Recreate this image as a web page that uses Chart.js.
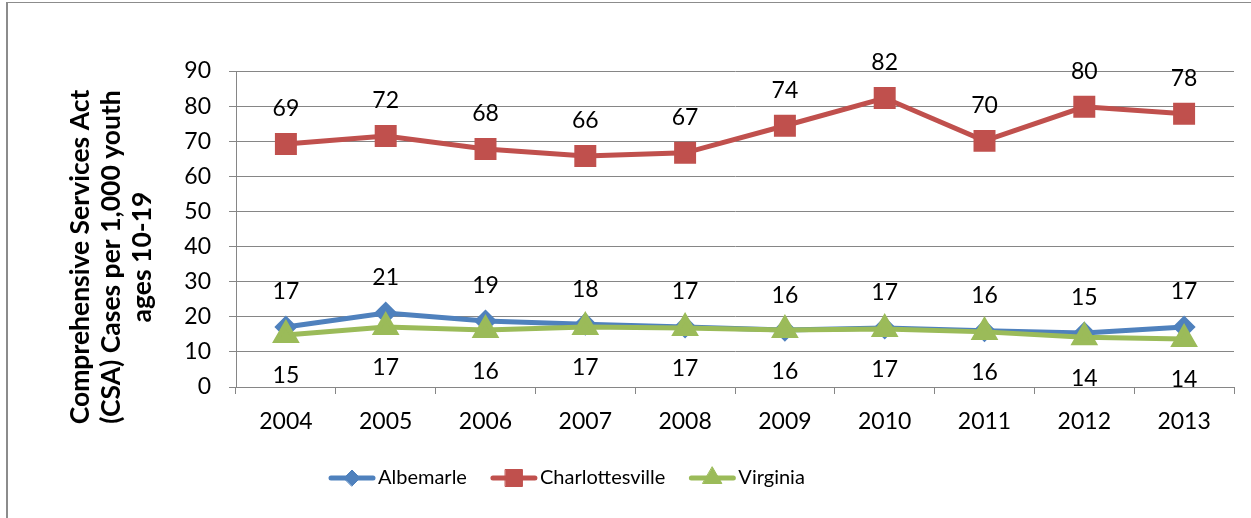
<!DOCTYPE html>
<html>
<head>
<meta charset="utf-8">
<script src="https://cdn.jsdelivr.net/npm/chart.js@4/dist/chart.umd.min.js"></script>
<style>
	html, body { margin: 0; padding: 0; background: #fff; overflow: hidden; }
	#wrap { position: relative; width: 1251px; height: 518px; }
	#frame { position: absolute; left: 6px; top: 2px; width: 1300px; height: 600px; border-left: 2px solid #8c8c8c; border-top: 1px solid #8c8c8c; }
	canvas { position: absolute; left: 0; top: 0; }
</style>
</head>
<body>
<div id="wrap">
	<div id="frame"></div>
	<canvas id="myLineChart" width="1251" height="518"></canvas>
</div>
<script>
//chart values
const years = ['2004', '2005', '2006', '2007', '2008', '2009', '2010', '2011', '2012', '2013'];
const albemarle = [17.1, 21.1, 18.8, 17.9, 17.1, 16.2, 16.8, 16.0, 15.4, 17.1];
const charlottesville = [69.2, 71.5, 67.8, 65.8, 66.7, 74.4, 82.3, 70.1, 79.8, 77.8];
const virginia = [14.8, 17.1, 16.2, 17.1, 16.8, 16.2, 16.5, 15.7, 14.2, 13.7];
const yTicks = [0, 10, 20, 30, 40, 50, 60, 70, 80, 90];
const axisTitle = ['Comprehensive Services Act', '(CSA) Cases per 1,000 youth', 'ages 10-19'];

const FONT = 'Lato';
const GRID = '#868686';

//draw the value labels above / below each point
const valueLabels = {
	id: 'valueLabels',
	afterDatasetsDraw(chart) {
		const ctx = chart.ctx;
		ctx.save();
		ctx.font = '23px ' + FONT;
		ctx.fillStyle = '#000';
		ctx.textAlign = 'center';
		ctx.textBaseline = 'middle';
		chart.data.datasets.forEach((ds, i) => {
			const meta = chart.getDatasetMeta(i);
			meta.data.forEach((pt, j) => {
				const dy = ds.labelSide === 'below' ? 41 : -35;
				ctx.fillText(Math.round(ds.data[j]), pt.x, pt.y + dy);
			});
		});
		ctx.restore();
	}
};

//rotated y axis title and the legend
const extras = {
	id: 'extras',
	afterDraw(chart) {
		const ctx = chart.ctx;
		ctx.save();
		ctx.fillStyle = '#000';
		ctx.font = 'bold 26.5px ' + FONT;
		ctx.textAlign = 'center';
		ctx.textBaseline = 'middle';
		axisTitle.forEach((line, i) => {
			ctx.save();
			ctx.translate(80 + i * 31, 257);
			ctx.rotate(-Math.PI / 2);
			ctx.fillText(line, 0, 0);
			ctx.restore();
		});

		//legend
		let x = 331;
		const y = 478;
		ctx.font = '20px ' + FONT;
		ctx.textAlign = 'left';
		[0, 1, 2].forEach(i => {
			const ds = chart.data.datasets[i];
			ctx.strokeStyle = ds.borderColor;
			ctx.lineWidth = 5;
			ctx.lineCap = 'round';
			ctx.beginPath();
			ctx.moveTo(x, y);
			ctx.lineTo(x + 42, y);
			ctx.stroke();
			ctx.fillStyle = ds.pointBackgroundColor;
			ctx.strokeStyle = ds.borderColor;
			ctx.lineWidth = 1;
			Chart.helpers.drawPoint(ctx, { pointStyle: ds.pointStyle, radius: ds.pointRadius, rotation: 0, borderWidth: 1 }, x + 21, y);
			ctx.fillStyle = '#000';
			ctx.fillText(ds.label, x + 47, y);
			x += 47 + ctx.measureText(ds.label).width + 26;
		});
		ctx.restore();
	}
};

const ctx = document.getElementById('myLineChart').getContext('2d');
new Chart(ctx, {
	type: 'line',
	data: {
		labels: years,
		datasets: [{
			label: 'Albemarle',
			data: albemarle,
			labelSide: 'above',
			order: 2,
			borderColor: '#4F81BD',
			backgroundColor: '#4F81BD',
			pointBackgroundColor: '#4F81BD',
			pointBorderColor: '#4F81BD',
			pointStyle: 'rectRot',
			pointRadius: 8,
			borderWidth: 5
		}, {
			label: 'Charlottesville',
			data: charlottesville,
			labelSide: 'above',
			order: 1,
			borderColor: '#C0504D',
			backgroundColor: '#C0504D',
			pointBackgroundColor: '#C0504D',
			pointBorderColor: '#C0504D',
			pointStyle: 'rect',
			pointRadius: 12,
			borderWidth: 5
		}, {
			label: 'Virginia',
			data: virginia,
			labelSide: 'below',
			order: 0,
			borderColor: '#9BBB59',
			backgroundColor: '#9BBB59',
			pointBackgroundColor: '#9BBB59',
			pointBorderColor: '#9BBB59',
			pointStyle: 'triangle',
			pointRadius: 11,
			borderWidth: 5
		}]
	},
	options: {
		responsive: false,
		animation: false,
		events: [],
		layout: { padding: { top: 71, right: 15, left: 0, bottom: 0 } },
		plugins: {
			legend: { display: false },
			tooltip: { enabled: false }
		},
		elements: {
			line: { tension: 0 },
			point: { borderWidth: 1, hoverRadius: 0 }
		},
		scales: {
			x: {
				offset: true,
				grid: { offset: true, drawOnChartArea: false, tickLength: 7, color: GRID },
				border: { color: GRID, width: 1 },
				ticks: { color: '#000', font: { family: FONT, size: 23 }, padding: 14, maxRotation: 0 },
				afterFit(scale) { scale.height = 131; }
			},
			y: {
				min: yTicks[0],
				max: yTicks[yTicks.length - 1],
				afterBuildTicks(scale) { scale.ticks = yTicks.map(v => ({ value: v })); },
				grid: { tickLength: 7, color: GRID },
				border: { color: GRID, width: 1 },
				ticks: { color: '#000', font: { family: FONT, size: 23 }, padding: 18 },
				afterFit(scale) { scale.width = 236; }
			}
		}
	},
	plugins: [valueLabels, extras]
});
</script>
</body>
</html>
